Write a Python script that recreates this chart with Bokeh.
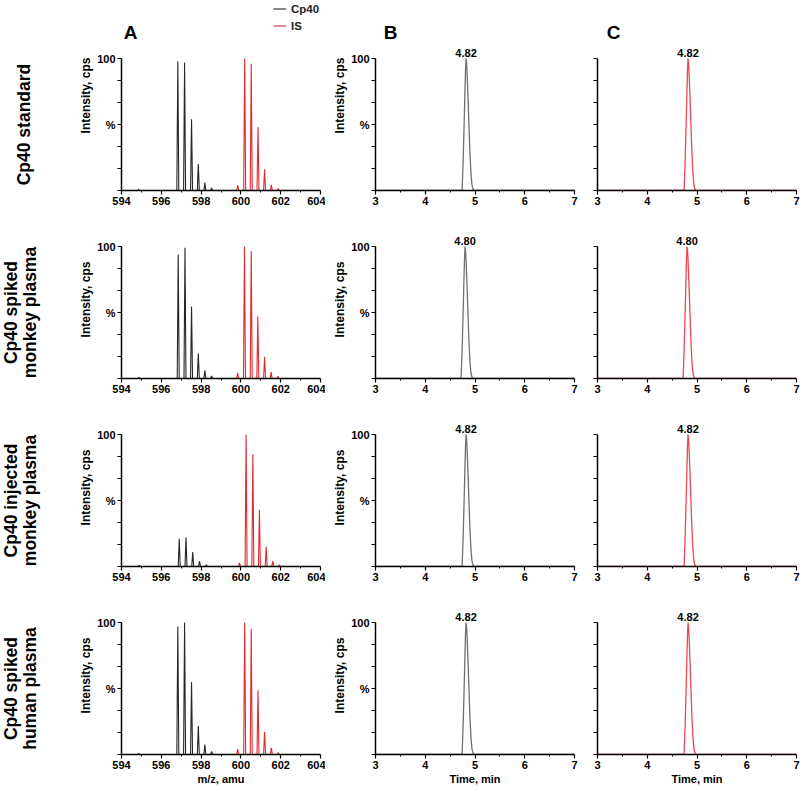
import numpy as np
from math import pi
from bokeh.plotting import figure
from bokeh.layouts import row, column
from bokeh.models import (Range1d, FixedTicker, CustomJSTickFormatter, Label,
                          Legend, LegendItem)
from bokeh.embed import file_html
from bokeh.resources import INLINE

FONT = "Liberation Sans"

# ---------------- data ----------------
row_labels = [["Cp40 standard"],
              ["Cp40 spiked", "monkey plasma"],
              ["Cp40 injected", "monkey plasma"],
              ["Cp40 spiked", "human plasma"]]
col_titles = ["A", "B", "C"]
series_names = ["Cp40", "IS"]

mz_ticks = [594, 596, 598, 600, 602, 604]
mz_minor = [595, 597, 599, 601, 603]
time_ticks = [3, 4, 5, 6, 7]
time_minor = [3.5, 4.5, 5.5, 6.5]
y_ticks = [0, 16.667, 33.333, 50, 66.667, 83.333, 100]
y_label_map = {100: "100", 50: "%"}
mz_axis_label = "m/z, amu"
time_axis_label = "Time, min"
y_axis_label = "Intensity, cps"

# mass spectra (panel A): isotope peak centres (m/z) and relative intensities (%)
cp40_mz = [
    [594.86, 596.83, 597.17, 597.52, 597.86, 598.19, 598.53],
    [594.87, 596.85, 597.19, 597.52, 597.86, 598.19, 598.53],
    [594.89, 596.90, 597.24, 597.58, 597.92, 598.26],
    [594.86, 596.83, 597.17, 597.52, 597.86, 598.19, 598.53],
]
cp40_int = [
    [0.8, 98, 97, 54, 20, 6, 2],
    [0.8, 94, 99, 54.5, 19, 6, 2],
    [0.8, 21, 22, 11, 4, 1.3],
    [0.8, 97, 100, 55, 21.5, 7.6, 2.3],
]
is_mz = [
    [599.84, 600.19, 600.52, 600.86, 601.19, 601.53, 601.88],
    [599.84, 600.18, 600.52, 600.85, 601.19, 601.52, 601.86],
    [599.93, 600.26, 600.60, 600.93, 601.27, 601.60, 601.94],
    [599.84, 600.19, 600.52, 600.86, 601.19, 601.53, 601.88],
]
is_int = [
    [4, 100, 96, 48, 16, 4.3, 1.5],
    [4.3, 100, 96.5, 47, 16.3, 4.8, 1.8],
    [2.8, 100, 85, 43, 15, 4, 1.3],
    [4, 100, 95, 48.6, 17.2, 5.1, 1.5],
]
cp40_span = (594.0, 599.5)     # m/z extent of the Cp40 trace
is_span = (599.6, 602.1)       # m/z extent of the IS trace
peak_halfwidth = 0.05          # m/z

# chromatograms (panels B, C): retention times and peak profile
rt_cp40 = [4.82, 4.80, 4.82, 4.82]
rt_is = [4.82, 4.80, 4.82, 4.82]
chrom_offset = [-0.08, -0.06, -0.04, -0.02, -0.01, 0.0, 0.01, 0.02, 0.04,
                0.06, 0.08, 0.10, 0.12, 0.14, 0.16]
chrom_int = [0, 20, 48, 78, 92, 100, 97, 90, 70, 48, 27, 12, 4, 1, 0]
time_span = (3.0, 7.0)

# ---------------- styling / layout ----------------
BLACK = "#262626"
RED = "#e0282f"
GRAY = "#707070"
RED_C = "#ec4750"

FW, FH = 199, 132
LABEL_W = 60
TOPS = [58, 26, 26, 26]
BOTS = [30, 30, 30, 32]
A_L, A_R = 61, 5
B_L, B_R = 50, 4
C_L, C_R = 19, 4


def spectrum_xy(span, centres, heights):
    xs, ys = [span[0]], [0.0]
    for c, h in zip(centres, heights):
        xs += [c - peak_halfwidth, c, c + peak_halfwidth]
        ys += [0.0, h, 0.0]
    xs.append(span[1])
    ys.append(0.0)
    return xs, ys


def chrom_xy(rt):
    xs = [time_span[0]] + [rt + o for o in chrom_offset] + [time_span[1]]
    ys = [0.0] + list(chrom_int) + [0.0]
    return xs, ys


def style_axis(ax):
    ax.axis_line_color = "black"
    ax.axis_line_width = 1.5
    ax.major_tick_line_color = "black"
    ax.major_tick_line_width = 1.2
    ax.minor_tick_line_color = "black"
    ax.minor_tick_line_width = 1
    ax.major_tick_in = 0
    ax.major_tick_out = 4
    ax.minor_tick_in = 0
    ax.minor_tick_out = 2
    ax.major_label_text_font = FONT
    ax.major_label_text_font_style = "bold"
    ax.major_label_text_font_size = "11px"
    ax.major_label_text_color = "black"
    ax.major_label_standoff = 2
    ax.axis_label_text_font = FONT
    ax.axis_label_text_font_style = "bold"
    ax.axis_label_text_color = "black"
    ax.axis_label_standoff = 1


def base_fig(xr, left, right, top, bottom):
    # the frame is extended upward by `top` pixels so texts above the 100 % line
    # stay inside the (clipped) frame; the y axis itself is bounded to 0-100.
    p = figure(output_backend="svg", toolbar_location=None,
               x_range=Range1d(*xr), y_range=Range1d(0, 100.0 * (FH + top) / FH),
               frame_width=FW, frame_height=FH + top,
               min_border_left=left, min_border_right=right,
               min_border_top=0, min_border_bottom=bottom,
               outline_line_color=None, background_fill_color="white",
               border_fill_color="white")
    p.xgrid.visible = False
    p.ygrid.visible = False
    return p


def setup_axes(p, xticks, xminor, ylabels, ytitle, xtitle):
    xa, ya = p.xaxis[0], p.yaxis[0]
    style_axis(xa)
    style_axis(ya)
    ya.bounds = (0, 100)
    xa.ticker = FixedTicker(ticks=xticks, minor_ticks=xminor)
    ya.ticker = FixedTicker(ticks=y_ticks, minor_ticks=[])
    if ylabels:
        ya.formatter = CustomJSTickFormatter(
            args=dict(vals=list(y_label_map.keys()), labs=list(y_label_map.values())),
            code="for (let k = 0; k < vals.length; k++) {"
                 " if (Math.abs(tick - vals[k]) < 1e-6) return labs[k]; }"
                 " return '';")
    else:
        ya.formatter = CustomJSTickFormatter(code="return '';")
    if ytitle:
        ya.axis_label = ytitle
        ya.axis_label_text_font_size = "12px"
    if xtitle:
        xa.axis_label = xtitle
        xa.axis_label_text_font_size = "11px"


def title_label(x, offset, text):
    return Label(x=x, y=100, x_offset=offset, y_offset=26, text=text,
                 text_align="center", text_baseline="middle", text_font=FONT,
                 text_font_style="bold", text_font_size="19px", text_color="black")


def peak_label(rt):
    return Label(x=rt, y=100, y_offset=2, text=f"{rt:.2f}", text_align="center",
                 text_baseline="bottom", text_font=FONT, text_font_style="bold",
                 text_font_size="11px", text_color="black")


def label_fig(lines, top, bottom):
    # same frame geometry as the panels; y in [0, 1] spans the 0-100 % band
    p = figure(output_backend="svg", toolbar_location=None,
               x_range=Range1d(0, LABEL_W), y_range=Range1d(0, (FH + top) / FH),
               frame_width=LABEL_W, frame_height=FH + top,
               min_border_left=0, min_border_right=0,
               min_border_top=0, min_border_bottom=bottom,
               x_axis_type=None, y_axis_type=None,
               outline_line_color=None, border_fill_color="white")
    p.grid.visible = False
    xs = [23] if len(lines) == 1 else [10.5, 29]
    for x, t in zip(xs, lines):
        p.add_layout(Label(x=x, y=0.5, text=t, angle=pi / 2, text_align="center",
                           text_baseline="middle", text_font=FONT,
                           text_font_style="bold", text_font_size="17.5px",
                           text_color="black"))
    return p


rows = []
n = len(row_labels)
for i in range(n):
    top, bot = TOPS[i], BOTS[i]
    last = (i == n - 1)

    # ---- panel A: mass spectrum ----
    pa = base_fig((mz_ticks[0], mz_ticks[-1]), A_L, A_R, top, bot)
    bx, by = spectrum_xy(cp40_span, cp40_mz[i], cp40_int[i])
    rx, ry = spectrum_xy(is_span, is_mz[i], is_int[i])
    rb = pa.line(bx, by, line_color=BLACK, line_width=1.1)
    rr = pa.line(rx, ry, line_color=RED, line_width=1.1)
    setup_axes(pa, mz_ticks, mz_minor, True, y_axis_label,
               mz_axis_label if last else None)

    # ---- panel B: Cp40 chromatogram ----
    pb = base_fig(time_span, B_L, B_R, top, bot)
    cx, cy = chrom_xy(rt_cp40[i])
    pb.line(cx, cy, line_color=GRAY, line_width=1.3)
    setup_axes(pb, time_ticks, time_minor, True, y_axis_label,
               time_axis_label if last else None)
    pb.add_layout(peak_label(rt_cp40[i]))

    # ---- panel C: IS chromatogram ----
    pc = base_fig(time_span, C_L, C_R, top, bot)
    setup_axes(pc, time_ticks, time_minor, False, None,
               time_axis_label if last else None)
    ix, iy = chrom_xy(rt_is[i])
    pc.line(ix, iy, line_color=RED_C, line_width=1.3)
    pc.add_layout(peak_label(rt_is[i]))

    if i == 0:
        pa.add_layout(title_label(mz_ticks[0], 9, col_titles[0]))
        pb.add_layout(title_label(time_ticks[0], 15, col_titles[1]))
        pc.add_layout(title_label(time_ticks[0], 16, col_titles[2]))
        legend = Legend(items=[LegendItem(label=series_names[0], renderers=[rb]),
                               LegendItem(label=series_names[1], renderers=[rr])],
                        location=(152, FH + top - 34), orientation="vertical",
                        padding=0, margin=0, spacing=0,
                        label_height=17, glyph_height=17, glyph_width=13,
                        label_standoff=5, label_text_font=FONT,
                        label_text_font_style="bold", label_text_font_size="11.5px",
                        label_text_color="#222222",
                        border_line_color=None, background_fill_alpha=0)
        pa.add_layout(legend)

    lf = label_fig(row_labels[i], top, bot)
    rows.append(row(lf, pa, pb, pc))

layout = column(*rows)
open("out.html", "w").write(file_html(layout, INLINE))
